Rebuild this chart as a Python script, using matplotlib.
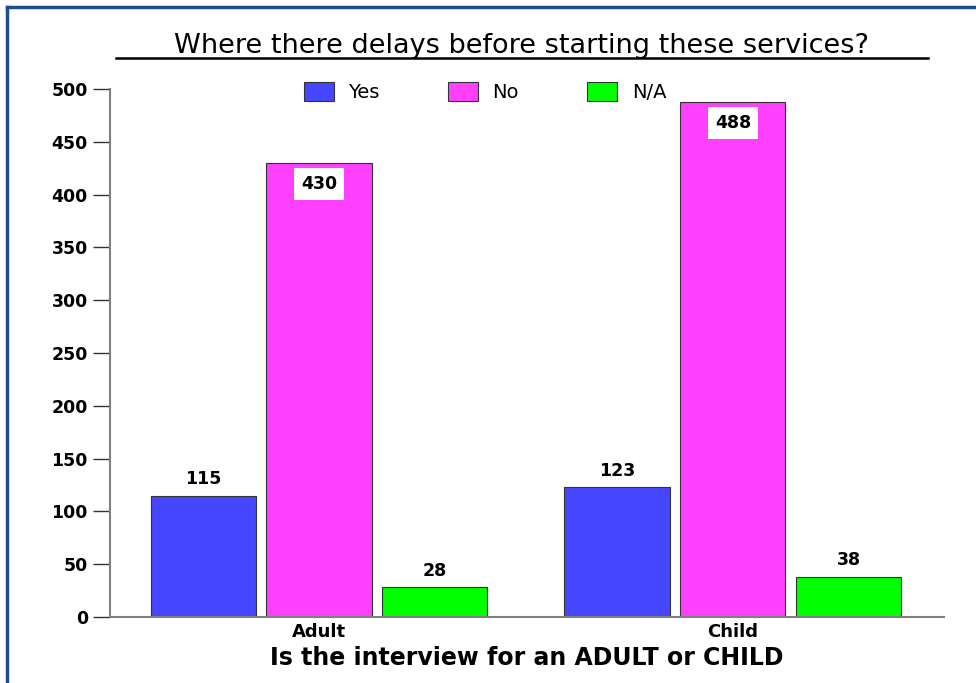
import numpy as np
import matplotlib.pyplot as plt
from matplotlib.lines import Line2D

categories = ["Adult", "Child"]
series_names = ["Yes", "No", "N/A"]
yes_values = [115, 123]
no_values = [430, 488]
na_values = [28, 38]
y_ticks = [0, 50, 100, 150, 200, 250, 300, 350, 400, 450, 500]

colors = ["#4646FF", "#FF40FF", "#00FF00"]

plt.rcParams["font.family"] = ["DejaVu Sans"]

fig = plt.figure(figsize=(9.76, 6.83), dpi=100)
ax = fig.add_axes([110 / 976, 66 / 683, (944 - 110) / 976, (617 - 89) / 683])

x = np.arange(len(categories))
width = 0.254
offset = 0.28
all_values = [yes_values, no_values, na_values]

for i, (name, vals, color) in enumerate(zip(series_names, all_values, colors)):
    pos = x + (i - 1) * offset
    ax.bar(pos, vals, width, color=color, edgecolor="#333333", linewidth=0.8,
           label=name, zorder=2)
    for px, v in zip(pos, vals):
        if name == "No":
            ax.text(px, v - 20, str(v), ha="center", va="center",
                    fontsize=12.5, fontweight="bold",
                    bbox=dict(facecolor="white", edgecolor="none", pad=5))
        else:
            ax.text(px, v + 7, str(v), ha="center", va="bottom",
                    fontsize=12.5, fontweight="bold")

ax.set_xlim(-0.505, 1.51)
ax.set_ylim(0, 500)
ax.set_yticks(y_ticks)
ax.set_yticklabels([str(t) for t in y_ticks], fontsize=12.5, fontweight="bold")
ax.set_xticks(x)
ax.set_xticklabels(categories, fontsize=13, fontweight="bold")
ax.tick_params(axis="x", length=0, pad=4)
ax.tick_params(axis="y", length=12, width=1, color="#333333", pad=4)

for side in ["top", "right"]:
    ax.spines[side].set_visible(False)
ax.spines["left"].set_color("#808080")
ax.spines["left"].set_linewidth(1.5)
ax.spines["bottom"].set_color("#808080")
ax.spines["bottom"].set_linewidth(1.5)

ax.set_xlabel("Is the interview for an ADULT or CHILD", fontsize=17,
              fontweight="bold", labelpad=4)

fig.text(522 / 976, 1 - 46 / 683, "Where there delays before starting these services?",
         ha="center", va="center", fontsize=19.5)
# underline under title
fig.add_artist(Line2D([116 / 976, 928 / 976], [1 - 58 / 683, 1 - 58 / 683],
                      color="black", linewidth=1.8))

ax.legend(loc="center", bbox_to_anchor=(485 / 976, 1 - 92 / 683),
          bbox_transform=fig.transFigure, ncol=3, frameon=False,
          fontsize=14, handlelength=1.55, handleheight=1.1,
          columnspacing=3.5, handletextpad=0.75)

# blue frame on left and top
fig.add_artist(Line2D([7 / 976, 7 / 976], [0, 1 - 7 / 683], color="#1F4E8C", linewidth=2.5))
fig.add_artist(Line2D([7 / 976, 1], [1 - 7 / 683, 1 - 7 / 683], color="#1F4E8C", linewidth=2.5))

fig.savefig("out.png", dpi=100)
